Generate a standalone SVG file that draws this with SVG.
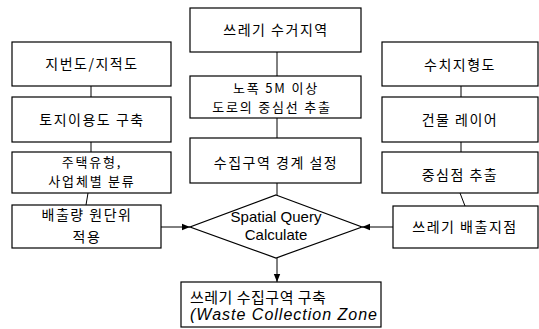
<svg xmlns="http://www.w3.org/2000/svg" width="539" height="329" viewBox="0 0 539 329">
<style>
.box{fill:#fff;stroke:#000;stroke-width:1.2}
.kr{font-family:"Noto Sans CJK KR","Liberation Sans",sans-serif;font-size:14px;letter-spacing:1.5px;text-anchor:middle;fill:#000}
.kr2{font-family:"Noto Sans CJK KR","Liberation Sans",sans-serif;font-size:13px;letter-spacing:1.8px;text-anchor:middle;fill:#000}
.en{font-family:"Liberation Sans",Arial,sans-serif;font-size:15px;text-anchor:middle;fill:#000}
.ln{stroke:#000;stroke-width:1;fill:none}
</style>
<defs>
<marker id="ah" viewBox="0 0 10 10" refX="10" refY="5" markerWidth="8" markerHeight="8" orient="auto" markerUnits="userSpaceOnUse">
<path d="M0,1 L10,5 L0,9 z" fill="#000"/>
</marker>
</defs>
<g id="connectors">
<line class="ln" x1="91" y1="86" x2="91" y2="97"/>
<line class="ln" x1="91" y1="142" x2="91" y2="152"/>
<line class="ln" x1="88" y1="193" x2="86" y2="205"/>
<line class="ln" x1="277" y1="52" x2="277" y2="76"/>
<line class="ln" x1="277" y1="118" x2="277" y2="138"/>
<line class="ln" x1="277" y1="183" x2="277" y2="195"/>
<line class="ln" x1="461" y1="86" x2="461" y2="97"/>
<line class="ln" x1="461" y1="142" x2="461" y2="152"/>
<line class="ln" x1="460" y1="193" x2="465" y2="206"/>
<line class="ln" x1="161" y1="227" x2="190" y2="227" marker-end="url(#ah)"/>
<line class="ln" x1="393" y1="227" x2="362" y2="227" marker-end="url(#ah)"/>
<line class="ln" x1="277" y1="258" x2="277" y2="282" marker-end="url(#ah)"/>
</g>
<g id="n-jibeondo">
<rect class="box" x="12" y="42" width="159" height="44"/>
<text class="kr" x="92" y="69">지번도/지적도</text>
</g>
<g id="n-toji">
<rect class="box" x="12" y="97" width="159" height="45"/>
<text class="kr" x="92" y="125">토지이용도 구축</text>
</g>
<g id="n-jutaek">
<rect class="box" x="12" y="152" width="159" height="41"/>
<text class="kr2" x="92" y="167">주택유형,</text>
<text class="kr2" x="92" y="186">사업체별 분류</text>
</g>
<g id="n-baechul">
<rect class="box" x="12" y="205" width="149" height="43"/>
<text class="kr" x="87" y="220">배출량 원단위</text>
<text class="kr" x="87" y="242">적용</text>
</g>
<g id="n-sugeo">
<rect class="box" x="190" y="8" width="171" height="44"/>
<text class="kr" x="276" y="35">쓰레기 수거지역</text>
</g>
<g id="n-nopok">
<rect class="box" x="190" y="76" width="171" height="42"/>
<text class="kr2" x="276" y="93">노폭 5M 이상</text>
<text class="kr2" x="272" y="112">도로의 중심선 추출</text>
</g>
<g id="n-sujip">
<rect class="box" x="190" y="138" width="171" height="45"/>
<text class="kr" x="276" y="168">수집구역 경계 설정</text>
</g>
<g id="n-spatial">
<polygon class="box" points="276,195 362,227 276,258 190,227"/>
<text class="en" x="276" y="222">Spatial Query</text>
<text class="en" x="276" y="240">Calculate</text>
</g>
<g id="n-zone">
<rect class="box" x="181" y="282" width="200" height="45"/>
<text x="190" y="303" style="font-family:'Noto Sans CJK KR','Liberation Sans',sans-serif;font-size:15px;letter-spacing:0.5px;fill:#000">쓰레기 수집구역 구축</text>
<text x="190" y="320" style="font-family:'Liberation Sans',Arial,sans-serif;font-size:16px;font-style:italic;letter-spacing:1px;fill:#000">(Waste Collection Zone</text>
</g>
<g id="n-suchi">
<rect class="box" x="382" y="42" width="156" height="44"/>
<text class="kr" x="460" y="70">수치지형도</text>
</g>
<g id="n-geonmul">
<rect class="box" x="382" y="97" width="156" height="45"/>
<text class="kr" x="460" y="125">건물 레이어</text>
</g>
<g id="n-jungsim">
<rect class="box" x="382" y="152" width="156" height="41"/>
<text class="kr" x="460" y="180">중심점 추출</text>
</g>
<g id="n-baechuljijeom">
<rect class="box" x="393" y="206" width="145" height="42"/>
<text class="kr" x="465" y="232">쓰레기 배출지점</text>
</g>
</svg>
